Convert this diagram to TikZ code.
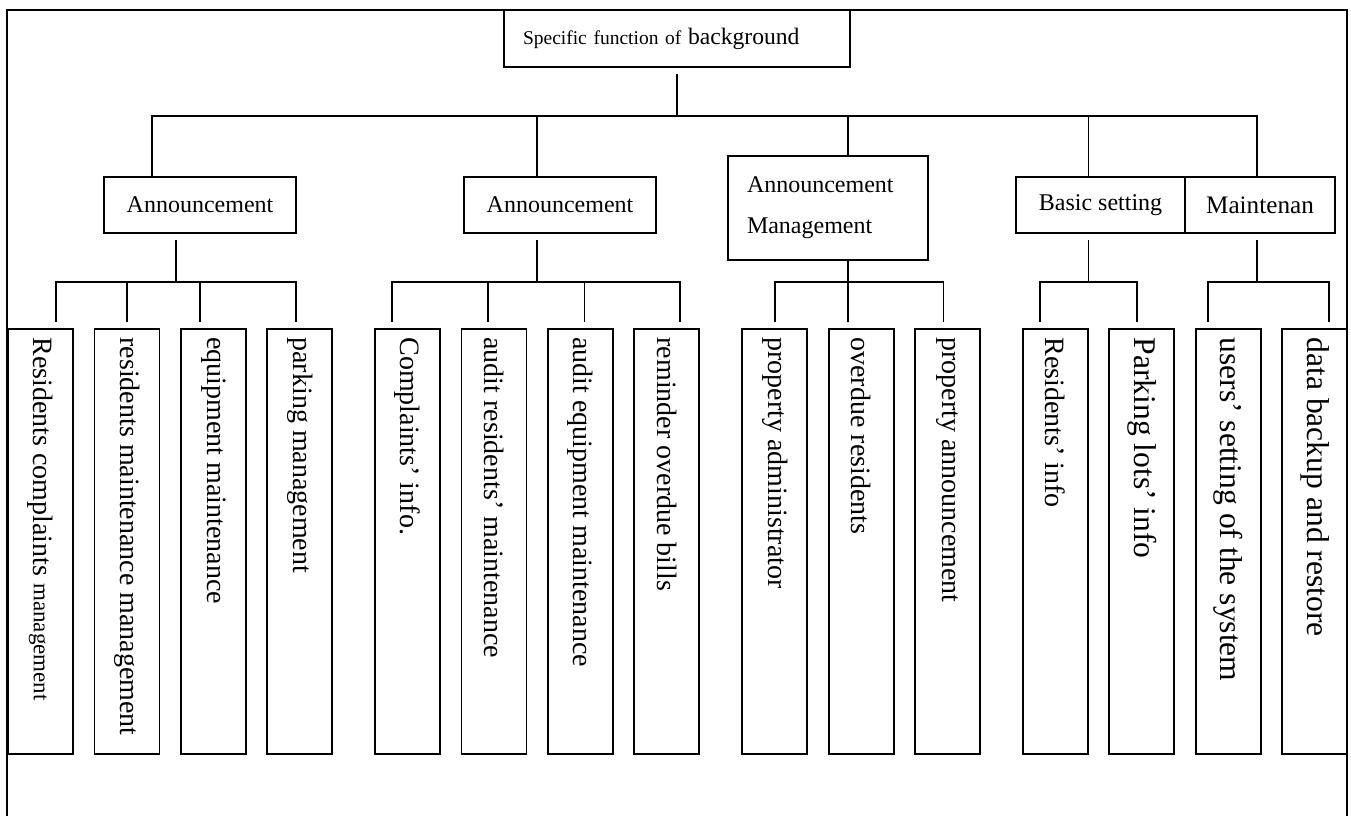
\documentclass[tikz,border=0pt]{standalone}
\usepackage{fontspec}
\setmainfont{Liberation Serif}
\usepackage{graphicx}
\usepackage{tikz}
\tikzstyle{topbox} = [rectangle, draw=black, line width=0.9pt, minimum height=28.5pt, inner xsep=9.5pt, text width=154pt, align=left]
\tikzstyle{group} = [rectangle, draw=black, line width=0.9pt, minimum height=28pt, font=\fontsize{12pt}{14pt}\selectfont]
\tikzstyle{leaf} = [rectangle, draw=black, line width=0.9pt, minimum width=32.5pt, minimum height=212.5pt, inner sep=0pt, font=\fontsize{14pt}{16pt}\selectfont]
\tikzstyle{bigleaf} = [leaf, font=\fontsize{15.8pt}{18pt}\selectfont]
\tikzstyle{link} = [line width=0.9pt]
\newcommand{\vtext}[1]{\rotatebox{-90}{\makebox[204pt][l]{#1}}}

\begin{document}
\begin{tikzpicture}[node distance=43.2pt]
\useasboundingbox (0,0) rectangle (675.5pt,-408pt);
\draw [line width=1.2pt] (3.5pt,-408pt) -- (3.5pt,-5pt) -- (673.5pt,-5pt) -- (673.5pt,-408pt);

\node (root) [topbox] at (338.5pt,-19.25pt) {{\fontsize{9.75pt}{12pt}\selectfont Specific function of }{\fontsize{11.8pt}{14pt}\selectfont background}};

\node (ann1) [group, minimum width=96pt] at (100pt,-102.5pt) {Announcement};
\node (ann2) [group, minimum width=96pt] at (280pt,-102.5pt) {Announcement};
\node (annmgmt) [group, minimum height=52pt, inner xsep=9.5pt, text width=81pt, align=left, font=\fontsize{12pt}{20.5pt}\selectfont] at (414pt,-104pt) {Announcement\\Management};
\node (basic) [group, minimum width=84.5pt] at (550.25pt,-102.5pt) {Basic setting};
\node (maint) [group, minimum width=75pt, font=\fontsize{12.6pt}{15pt}\selectfont] at (630pt,-102.5pt) {Maintenan};

\node (res_compl) [leaf] at (20.25pt,-270.75pt) {\vtext{Residents complaints {\fontsize{11.5pt}{14pt}\selectfont management}}};
\node (res_maint) [leaf, right of=res_compl] {\vtext{residents maintenance management}};
\node (equip) [leaf, right of=res_maint] {\vtext{equipment maintenance}};
\node (parking) [leaf, right of=equip] {\vtext{parking management}};

\node (compl_info) [leaf, right of=parking, xshift=10.75pt] {\vtext{Complaints’ info.}};
\node (audit_res) [leaf, right of=compl_info] {\vtext{audit residents’ maintenance}};
\node (audit_equip) [leaf, right of=audit_res] {\vtext{audit equipment maintenance}};
\node (reminder) [leaf, right of=audit_equip] {\vtext{reminder overdue bills}};

\node (prop_admin) [leaf, right of=reminder, xshift=10.75pt] {\vtext{property administrator}};
\node (overdue) [leaf, right of=prop_admin] {\vtext{overdue residents}};
\node (prop_ann) [leaf, right of=overdue] {\vtext{property announcement}};

\node (res_info) [leaf, right of=prop_ann, xshift=10.75pt] {\vtext{Residents’ info}};
\node (lots_info) [bigleaf, right of=res_info] {\vtext{Parking lots’ info}};
\node (users) [bigleaf, right of=lots_info] {\vtext{users’ setting of the system}};
\node (backup) [bigleaf, right of=users] {\vtext{data backup and restore}};

% root to second level
\draw [link, shorten <=3pt] (root.south) -- ++(0,-24pt);
\draw [link] (root.south) ++(0,-24pt) -| ([xshift=-24pt]ann1.north);
\draw [link] (root.south) ++(0,-24pt) -| ([xshift=-11.5pt]ann2.north);
\draw [link] (root.south) ++(0,-24pt) -| ([xshift=10pt]annmgmt.north);
\draw [link] (root.south) ++(0,-24pt) -| ([xshift=-6pt]basic.north);
\draw [link] (root.south) ++(0,-24pt) -| ([xshift=-1.5pt]maint.north);

% second level to leaves
\draw [link, shorten <=3pt] ([xshift=-12pt]ann1.south) -- ++(0,-24pt);
\draw [link, shorten >=3pt] ([xshift=-12pt]ann1.south) ++(0,-24pt) -| ([xshift=7.75pt]res_compl.north);
\draw [link, shorten >=3pt] ([xshift=-12pt]ann1.south) ++(0,-24pt) -| (res_maint.north);
\draw [link, shorten >=3pt] ([xshift=-12pt]ann1.south) ++(0,-24pt) -| ([xshift=-6.5pt]equip.north);
\draw [link, shorten >=3pt] ([xshift=-12pt]ann1.south) ++(0,-24pt) -| ([xshift=-2pt]parking.north);

\draw [link, shorten <=3pt] ([xshift=-11.5pt]ann2.south) -- ++(0,-24pt);
\draw [link, shorten >=3pt] ([xshift=-11.5pt]ann2.south) ++(0,-24pt) -| ([xshift=-7.75pt]compl_info.north);
\draw [link, shorten >=3pt] ([xshift=-11.5pt]ann2.south) ++(0,-24pt) -| ([xshift=-3pt]audit_res.north);
\draw [link, shorten >=3pt] ([xshift=-11.5pt]ann2.south) ++(0,-24pt) -| ([xshift=2pt]audit_equip.north);
\draw [link, shorten >=3pt] ([xshift=-11.5pt]ann2.south) ++(0,-24pt) -| ([xshift=6.5pt]reminder.north);

\draw [link, shorten >=3pt] ([xshift=10pt]annmgmt.south) ++(0,-10.5pt) -| (prop_admin.north);
\draw [link, shorten >=3pt] ([xshift=10pt]annmgmt.south) -- ([xshift=-6.5pt]overdue.north);
\draw [link, shorten >=3pt] ([xshift=10pt]annmgmt.south) ++(0,-10.5pt) -| ([xshift=-2pt]prop_ann.north);

\draw [link, shorten <=3pt] ([xshift=-6pt]basic.south) -- ++(0,-24pt);
\draw [link, shorten >=3pt] ([xshift=-6pt]basic.south) ++(0,-24pt) -| ([xshift=-7.75pt]res_info.north);
\draw [link, shorten >=3pt] ([xshift=-6pt]basic.south) ++(0,-24pt) -| ([xshift=-2.5pt]lots_info.north);

\draw [link, shorten <=3pt] ([xshift=-1.5pt]maint.south) -- ++(0,-24pt);
\draw [link, shorten >=3pt] ([xshift=-1.5pt]maint.south) ++(0,-24pt) -| ([xshift=-10pt]users.north);
\draw [link, shorten >=3pt] ([xshift=-1.5pt]maint.south) ++(0,-24pt) -| ([xshift=7.25pt]backup.north);

\end{tikzpicture}
\end{document}
